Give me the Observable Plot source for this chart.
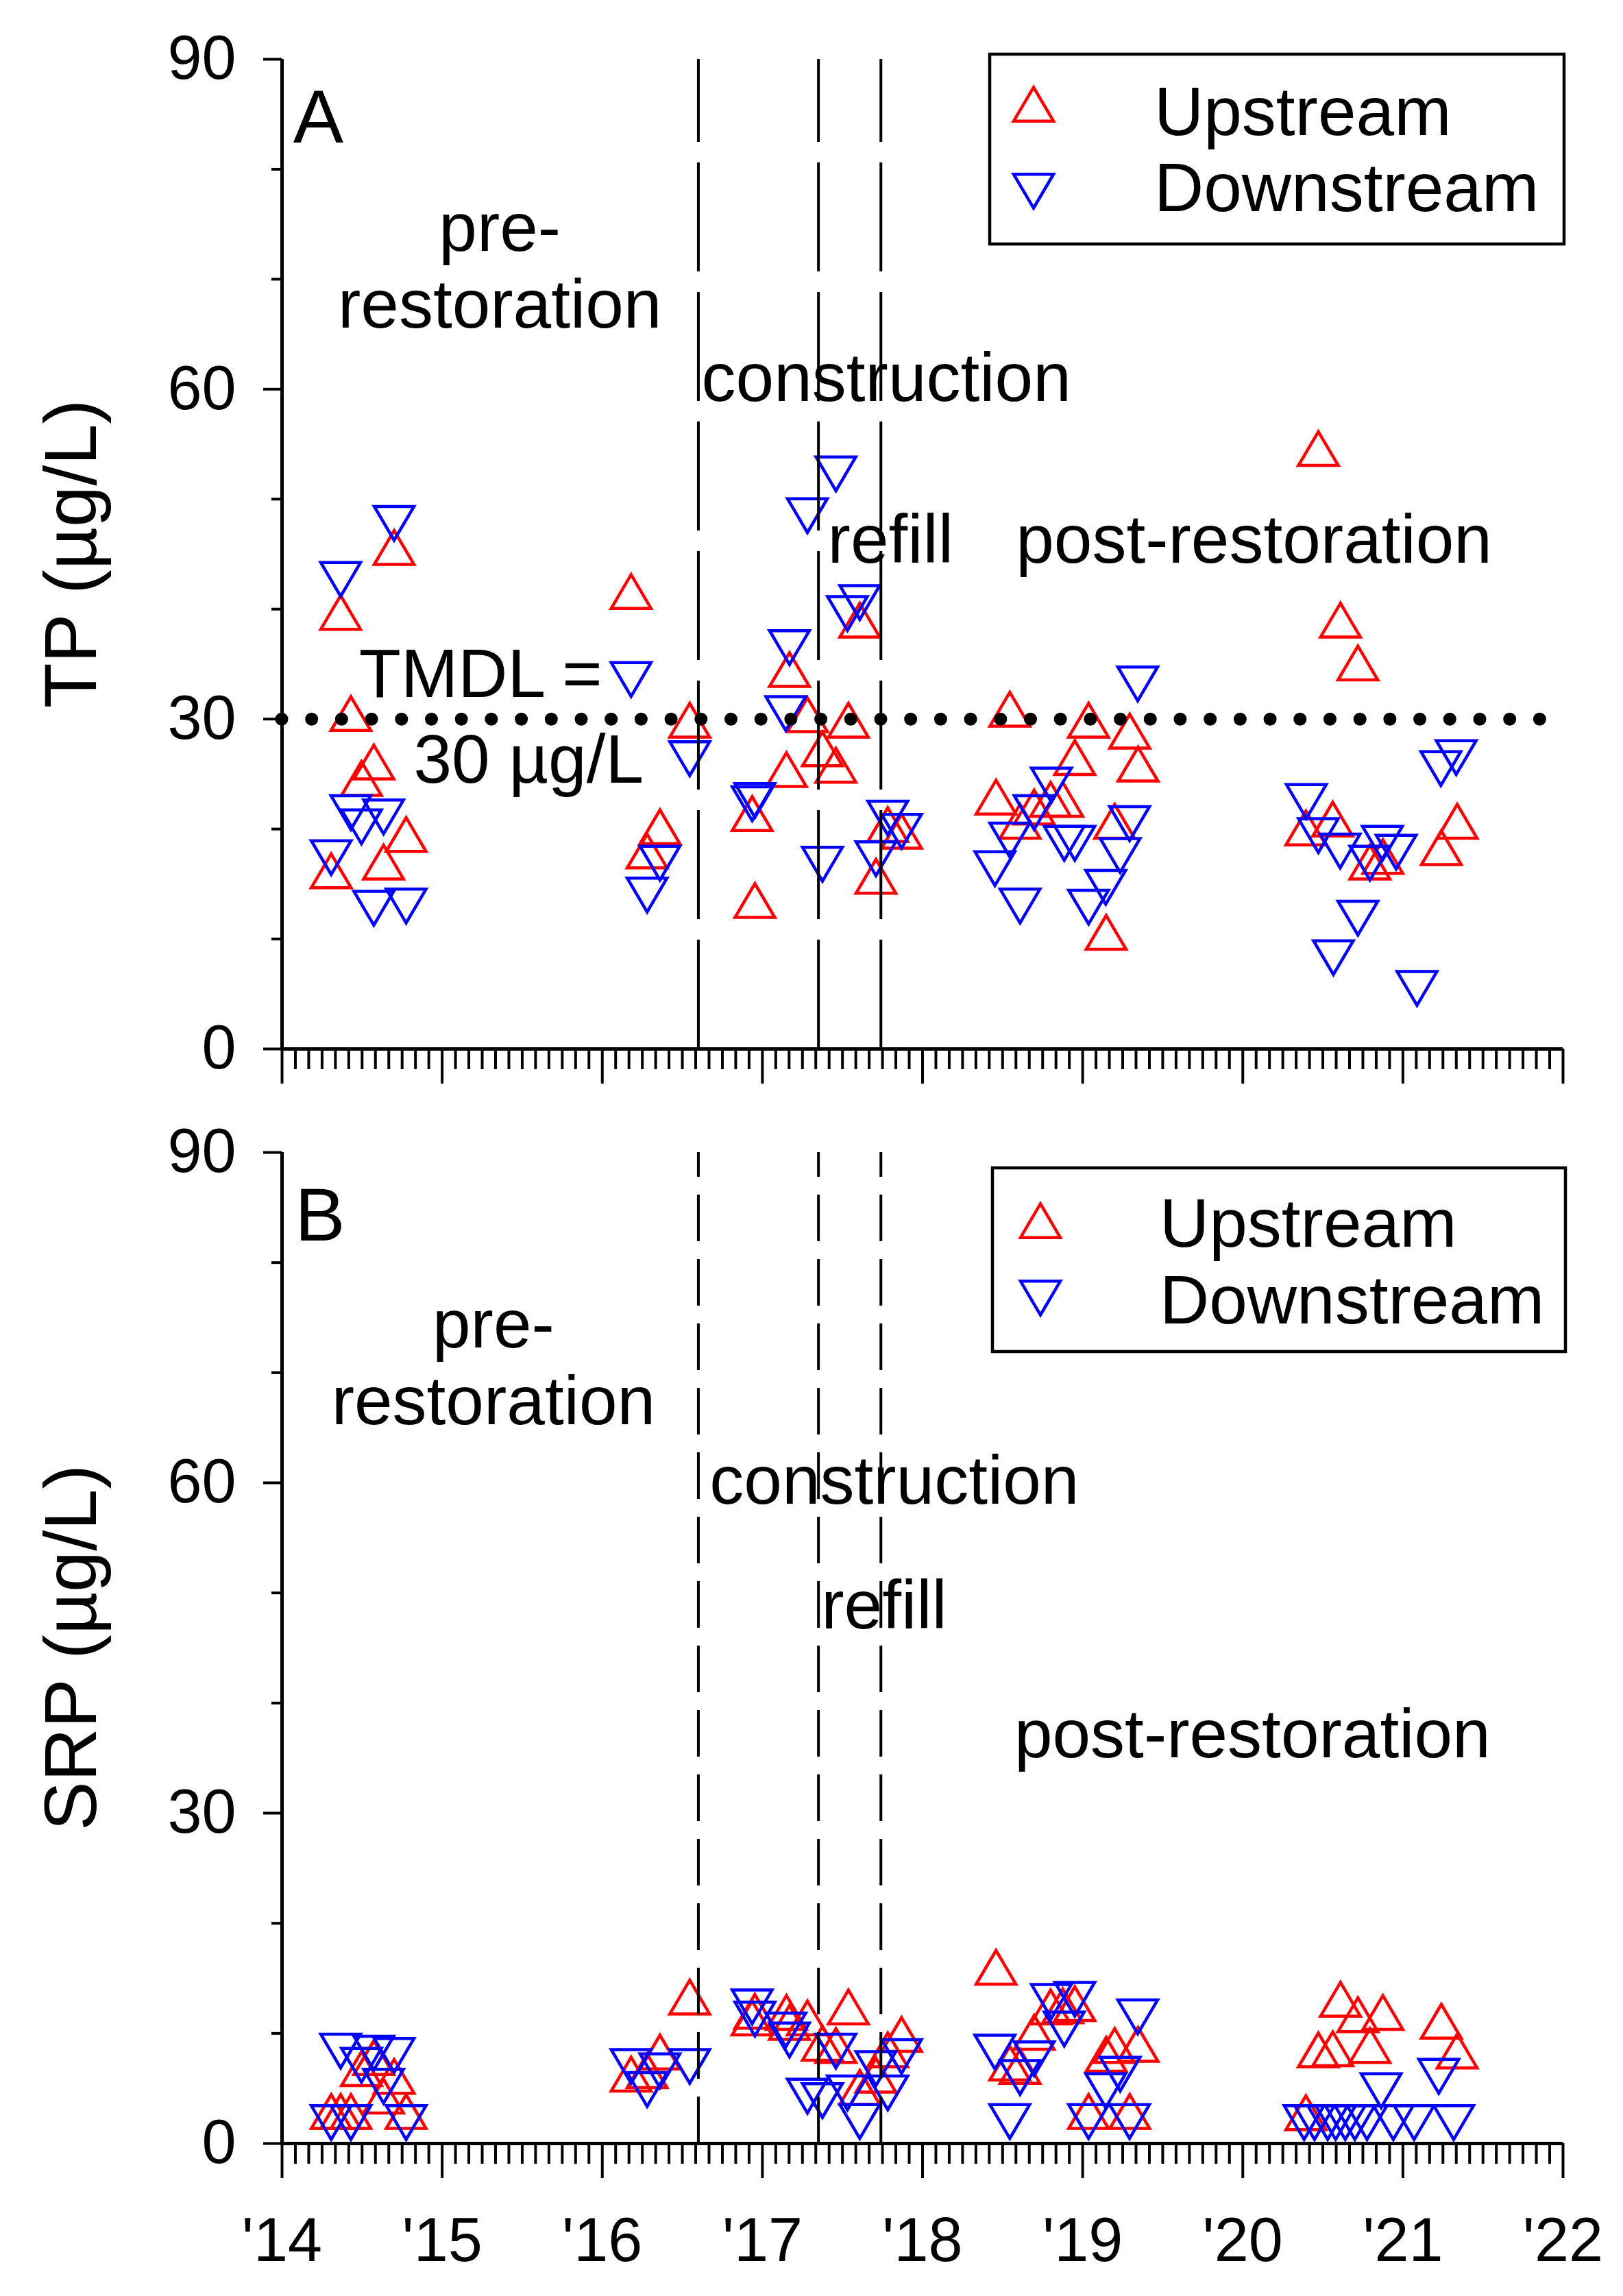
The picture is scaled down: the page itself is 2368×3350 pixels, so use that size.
<!DOCTYPE html>
<html><head><meta charset="utf-8">
<script src="https://cdn.jsdelivr.net/npm/d3@7"></script>
<script src="https://cdn.jsdelivr.net/npm/@observablehq/plot@0.6"></script>
<style>
html,body{margin:0;padding:0;background:#fff;overflow:hidden;}
#chart{width:2368px;height:3350px;position:relative;background:#fff;}
#chart svg{display:block;max-width:none;}
</style></head><body><div id="chart"></div>
<script>
// ---------- data ----------
const years = [2014, 2015, 2016, 2017, 2018, 2019, 2020, 2021, 2022];
const yearLabels = ["'14", "'15", "'16", "'17", "'18", "'19", "'20", "'21", "'22"];
const yTicks = [0, 30, 60, 90];
const phaseBoundaries = [2016.60, 2017.35, 2017.74];
const tmdlValue = 30;
const seriesNames = ["Upstream", "Downstream"];

// TP (µg/L) [decimal year, value]
const tpUpstream = [
  [2014.307,16.2],[2014.366,39.7],[2014.43,30.5],[2014.496,24.6],[2014.573,26.1],[2014.634,17.0],[2014.70,45.6],[2014.775,19.5],
  [2016.18,41.6],[2016.28,18.0],[2016.36,20.2],[2016.546,29.9],
  [2016.936,21.4],[2016.953,13.5],[2017.15,25.4],[2017.169,34.5],[2017.281,30.4],[2017.375,27.3],[2017.459,25.8],[2017.537,29.9],[2017.608,39.0],[2017.709,15.7],[2017.783,20.4],[2017.869,19.8],
  [2018.459,22.9],[2018.545,30.9],[2018.609,20.7],[2018.697,22.0],[2018.80,22.7],[2018.876,22.7],[2018.951,26.5],[2019.037,29.9],[2019.147,10.6],[2019.20,20.7],[2019.294,28.9],[2019.346,25.9],
  [2020.394,20.1],[2020.472,54.6],[2020.562,20.9],[2020.61,39.0],[2020.719,35.1],[2020.794,17.0],[2020.875,17.5],[2021.24,18.3],[2021.339,20.7]
];
const tpDownstream = [
  [2014.307,17.4],[2014.366,42.7],[2014.43,21.5],[2014.496,20.2],[2014.573,12.8],[2014.634,21.1],[2014.70,47.8],[2014.775,13.0],
  [2016.18,33.6],[2016.28,14.0],[2016.36,16.9],[2016.546,26.4],
  [2016.936,22.3],[2016.953,22.6],[2017.146,30.5],[2017.169,36.5],[2017.281,48.5],[2017.375,16.8],[2017.459,52.3],[2017.531,39.6],[2017.608,40.6],[2017.709,17.3],[2017.783,21.0],[2017.869,19.8],
  [2018.452,16.4],[2018.545,19.0],[2018.609,13.0],[2018.697,21.5],[2018.805,24.0],[2018.885,18.7],[2018.951,18.7],[2019.037,12.9],[2019.144,14.7],[2019.234,17.6],[2019.293,20.5],[2019.344,33.2],
  [2020.397,22.5],[2020.472,19.4],[2020.566,8.3],[2020.608,18.0],[2020.719,11.9],[2020.794,16.9],[2020.872,18.7],[2020.958,17.9],[2021.088,5.5],[2021.237,25.5],[2021.333,26.5]
];
// SRP (µg/L)
const srpUpstream = [
  [2014.307,2.9],[2014.366,2.9],[2014.43,2.9],[2014.496,6.8],[2014.573,7.8],[2014.634,4.3],[2014.70,6.1],[2014.775,2.9],
  [2016.18,6.3],[2016.28,6.6],[2016.36,8.3],[2016.546,13.3],
  [2016.936,11.4],[2016.953,12.0],[2017.15,11.9],[2017.169,11.0],[2017.281,11.4],[2017.375,9.1],[2017.459,8.9],[2017.537,12.4],[2017.608,5.1],[2017.709,6.2],[2017.783,8.5],[2017.869,9.9],
  [2018.459,16.0],[2018.545,7.3],[2018.609,7.0],[2018.697,10.1],[2018.80,12.4],[2018.876,12.5],[2018.951,12.7],[2019.037,2.9],[2019.147,8.1],[2019.20,8.9],[2019.294,2.9],[2019.346,9.0],
  [2020.394,2.8],[2020.472,8.5],[2020.562,8.6],[2020.61,13.1],[2020.719,11.7],[2020.794,8.9],[2020.875,11.9],[2021.24,11.1],[2021.339,8.4]
];
const srpDownstream = [
  [2014.307,1.9],[2014.366,8.4],[2014.43,1.9],[2014.496,7.1],[2014.573,8.2],[2014.634,5.2],[2014.70,8.0],[2014.775,1.9],
  [2016.18,7.0],[2016.28,4.9],[2016.36,6.6],[2016.546,7.0],
  [2016.936,12.4],[2016.953,11.3],[2017.146,10.3],[2017.169,9.4],[2017.281,4.3],[2017.375,3.9],[2017.459,8.4],[2017.531,4.6],[2017.608,2.0],[2017.709,6.8],[2017.783,4.6],[2017.869,7.9],
  [2018.452,8.3],[2018.545,2.0],[2018.609,6.0],[2018.697,7.7],[2018.805,12.9],[2018.885,10.4],[2018.951,13.1],[2019.037,2.0],[2019.144,4.8],[2019.234,6.3],[2019.293,2.0],[2019.344,11.5],
  [2020.383,1.9],[2020.448,1.9],[2020.53,1.9],[2020.58,1.9],[2020.64,1.9],[2020.70,1.9],[2020.776,1.9],[2020.864,4.8],[2020.94,1.9],[2021.07,1.9],[2021.224,6.1],[2021.317,1.9]
];

// annotations (text, x in years, y baseline in data units)
const annotationsA = [
  {text:"A", x:2014.07, y:82.4, anchor:"start", size:110},
  {text:"pre-", x:2015.36, y:72.6, anchor:"middle", size:100},
  {text:"restoration", x:2015.36, y:65.6, anchor:"middle", size:100},
  {text:"construction", x:2016.62, y:58.9, anchor:"start", size:100},
  {text:"refill", x:2017.80, y:44.2, anchor:"middle", size:100},
  {text:"post-restoration", x:2020.07, y:44.2, anchor:"middle", size:100},
  {text:"TMDL =", x:2015.24, y:32.0, anchor:"middle", size:100},
  {text:"30 µg/L", x:2015.54, y:24.2, anchor:"middle", size:100}
];
const annotationsB = [
  {text:"B", x:2014.08, y:82.0, anchor:"start", size:110},
  {text:"pre-", x:2015.32, y:72.3, anchor:"middle", size:100},
  {text:"restoration", x:2015.32, y:65.3, anchor:"middle", size:100},
  {text:"construction", x:2016.67, y:58.1, anchor:"start", size:100},
  {text:"refill", x:2017.76, y:46.8, anchor:"middle", size:100},
  {text:"post-restoration", x:2020.06, y:35.1, anchor:"middle", size:100}
];

// ---------- drawing ----------
const RED = "#FF0000", BLUE = "#0000FF";
const FONT = "'Liberation Sans', Arial, Helvetica, sans-serif";
const R = 29;
function triangle(dir) {
  return {draw(ctx, size) {
    const r = Math.sqrt(size / Math.PI), w = r, h = r * 0.85;
    if (dir > 0) { ctx.moveTo(0, -h); ctx.lineTo(w, h); ctx.lineTo(-w, h); }
    else { ctx.moveTo(0, h); ctx.lineTo(w, -h); ctx.lineTo(-w, -h); }
    ctx.closePath();
  }};
}
const triUp = triangle(1), triDown = triangle(-1);

const minorX = d3.range(1, 96).filter(i => i % 12 !== 0).map(i => 2014 + i / 12);
const minorY = d3.range(10, 90, 10).filter(v => v % 30 !== 0);

function panel({height, marginTop, marginBottom, up, down, annotations, showXLabels, tmdl, dash, yLabel, legend}) {
  const marks = [
    Plot.axisY(minorY, {tickSize: 15, tickFormat: () => "", strokeWidth: 4, label: null}),
    Plot.axisY(yTicks, {tickSize: 27, tickPadding: 40, strokeWidth: 4, label: null, fontSize: 90}),
    Plot.axisX(minorX, {tickSize: 30, tickFormat: () => "", strokeWidth: 4, label: null}),
    Plot.axisX(years, {tickSize: 51, tickPadding: 57, strokeWidth: 4, label: null, fontSize: 90,
      tickFormat: d => showXLabels ? yearLabels[years.indexOf(d)] : ""}),
    Plot.dot(up, {x: d => d[0], y: d => d[1], symbol: triUp, r: R, stroke: RED, strokeWidth: 4.5, fill: "none"}),
    Plot.dot(down, {x: d => d[0], y: d => d[1], symbol: triDown, r: R, stroke: BLUE, strokeWidth: 4.5, fill: "none"}),
    Plot.ruleX(phaseBoundaries, {y1: 0, y2: 90, stroke: "black", strokeWidth: 4, strokeDasharray: dash}),
    Plot.ruleY([0], {stroke: "black", strokeWidth: 5}),
    Plot.ruleX([2014], {stroke: "black", strokeWidth: 5})
  ];
  if (tmdl) {
    marks.push(Plot.ruleY([{y: tmdlValue, x1: 2014, x2: 2021.88}], {y: "y", x1: "x1", x2: "x2", stroke: "black",
      strokeWidth: 19, strokeLinecap: "round", strokeDasharray: "0 43.7"}));
  }
  for (const a of annotations) {
    marks.push(Plot.text([a], {x: "x", y: "y", text: "text", textAnchor: a.anchor, lineAnchor: "bottom",
      fontSize: a.size, fill: "black", fontFamily: FONT}));
  }
  const svg = Plot.plot({
    width: 2368, height, marginTop, marginBottom, marginLeft: 411, marginRight: 88,
    x: {domain: [2014, 2022]}, y: {domain: [0, 90]},
    style: {fontFamily: FONT, fontSize: "90px", color: "#000", background: "#fff", overflow: "visible"},
    marks
  });
  const s = d3.select(svg);
  // y axis title
  const yMid = (marginTop + (height - marginBottom)) / 2;
  s.append("text").attr("transform", `translate(140,${yMid}) rotate(-90)`)
    .attr("text-anchor", "middle").attr("font-size", 108).attr("font-family", FONT)
    .attr("fill", "black").text(yLabel);
  // legend
  const g = s.append("g").attr("text-anchor", "start");
  g.append("rect").attr("x", legend.x0).attr("y", legend.y0)
    .attr("width", legend.x1 - legend.x0).attr("height", legend.y1 - legend.y0)
    .attr("fill", "white").attr("stroke", "black").attr("stroke-width", 4.5);
  const sym = t => d3.symbol(t, R * R * Math.PI)();
  g.append("path").attr("d", sym(triUp)).attr("transform", `translate(${legend.sx},${legend.sy[0]})`)
    .attr("fill", "none").attr("stroke", RED).attr("stroke-width", 4.5);
  g.append("path").attr("d", sym(triDown)).attr("transform", `translate(${legend.sx},${legend.sy[1]})`)
    .attr("fill", "none").attr("stroke", BLUE).attr("stroke-width", 4.5);
  seriesNames.forEach((name, i) => {
    g.append("text").attr("x", legend.tx).attr("y", legend.ty[i]).attr("font-size", 100)
      .attr("text-anchor", "start").attr("font-family", FONT).attr("fill", "black").text(name);
  });
  return svg;
}

const chart = document.getElementById("chart");
chart.appendChild(panel({
  height: 1600, marginTop: 86, marginBottom: 70, up: tpUpstream, down: tpDownstream,
  annotations: annotationsA, showXLabels: false, tmdl: true, dash: "159 30", yLabel: "TP (µg/L)",
  legend: {x0: 1444, y0: 79, x1: 2282, y1: 356, sx: 1508, sy: [152, 279], tx: 1684, ty: [197, 308]}
}));
chart.appendChild(panel({
  height: 1750, marginTop: 81, marginBottom: 223, up: srpUpstream, down: srpDownstream,
  annotations: annotationsB, showXLabels: true, tmdl: false, dash: "68 26", yLabel: "SRP (µg/L)",
  legend: {x0: 1448, y0: 104, x1: 2284, y1: 372, sx: 1518, sy: [181, 294], tx: 1692, ty: [219, 331]}
}));
</script>
</body></html>
